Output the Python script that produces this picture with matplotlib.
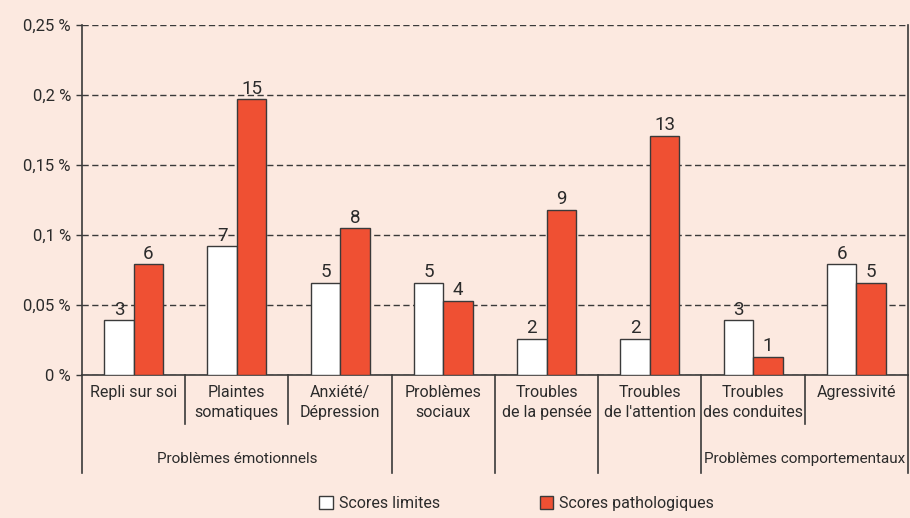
import matplotlib
matplotlib.use("Agg")
import matplotlib.pyplot as plt
from matplotlib.patches import Patch
import numpy as np

plt.rcParams['font.family'] = ['Roboto', 'DejaVu Sans']

categories = ["Repli sur soi", "Plaintes\nsomatiques", "Anxiété/\nDépression", "Problèmes\nsociaux",
              "Troubles\nde la pensée", "Troubles\nde l'attention", "Troubles\ndes conduites", "Agressivité"]
limites = [0.039, 0.092, 0.066, 0.066, 0.026, 0.026, 0.039, 0.079]
pathologiques = [0.079, 0.197, 0.105, 0.053, 0.118, 0.171, 0.013, 0.066]
n_limites = [3, 7, 5, 5, 2, 2, 3, 6]
n_patho = [6, 15, 8, 4, 9, 13, 1, 5]
yticks = [0, 0.05, 0.1, 0.15, 0.2, 0.25]
ytick_labels = ["0 %", "0,05 %", "0,1 %", "0,15 %", "0,2 %", "0,25 %"]
# groups: (first index, last index, label)
groups = [(0, 2, "Problèmes émotionnels"), (3, 3, ""), (4, 4, ""), (5, 5, ""),
          (6, 7, "Problèmes comportementaux")]

bg = "#FCE9E0"
red = "#EF5033"
dark = "#3a3a3a"
txt = "#2b2b2b"

fig = plt.figure(figsize=(9.1, 5.18), dpi=100, facecolor=bg)
ax = fig.add_axes([0.0901, 0.2761, 0.9077, 0.6756])
ax.set_facecolor(bg)

x = np.arange(len(categories))
w = 0.285
b1 = ax.bar(x - w / 2, limites, w, color="white", edgecolor=dark, linewidth=1, zorder=3)
b2 = ax.bar(x + w / 2, pathologiques, w, color=red, edgecolor=dark, linewidth=1, zorder=3)
ax.bar_label(b1, labels=[str(v) for v in n_limites], padding=1, fontsize=13.5, color=txt)
ax.bar_label(b2, labels=[str(v) for v in n_patho], padding=1, fontsize=13.5, color=txt)

ax.set_xlim(-0.5, len(categories) - 0.5)
ax.set_ylim(0, 0.25)
ax.set_yticks(yticks)
ax.set_yticklabels(ytick_labels, fontsize=12, color=txt)
ax.set_xticks(x)
ax.set_xticklabels(categories, fontsize=11.5, color=txt, linespacing=1.45)
ax.tick_params(axis="x", length=0, pad=7)
ax.tick_params(axis="y", length=4, width=1, color=dark, pad=4)

ax.yaxis.grid(True, linestyle=(0, (4.5, 2.5)), color=dark, linewidth=1, zorder=0)
ax.set_axisbelow(True)
for s in ["left", "right", "bottom"]:
    ax.spines[s].set_color(dark)
    ax.spines[s].set_linewidth(1.2)
ax.spines["top"].set_visible(False)

# separators under the axis
trans = ax.get_xaxis_transform()
long_edges = set()
for g0, g1, label in groups:
    long_edges.add(g0 - 0.5)
    long_edges.add(g1 + 0.5)
    if label:
        ax.text((g0 + g1) / 2, -0.24, label, transform=trans, ha="center", va="center",
                fontsize=11, color=txt)
for i in range(len(categories) + 1):
    xe = i - 0.5
    y_end = -0.28 if xe in long_edges else -0.14
    ax.plot([xe, xe], [0, y_end], transform=trans, color=dark, linewidth=1.2, clip_on=False)

handles = [Patch(facecolor="white", edgecolor=dark, label="Scores limites"),
           Patch(facecolor=red, edgecolor=dark, label="Scores pathologiques")]
fig.legend(handles=handles, loc="lower center", bbox_to_anchor=(0.568, -0.015), ncol=2,
           frameon=False, fontsize=11.5, handlelength=0.85, handleheight=0.85,
           handletextpad=0.4, columnspacing=6.2, labelcolor=txt)

fig.savefig("out.png", dpi=100, facecolor=bg)
